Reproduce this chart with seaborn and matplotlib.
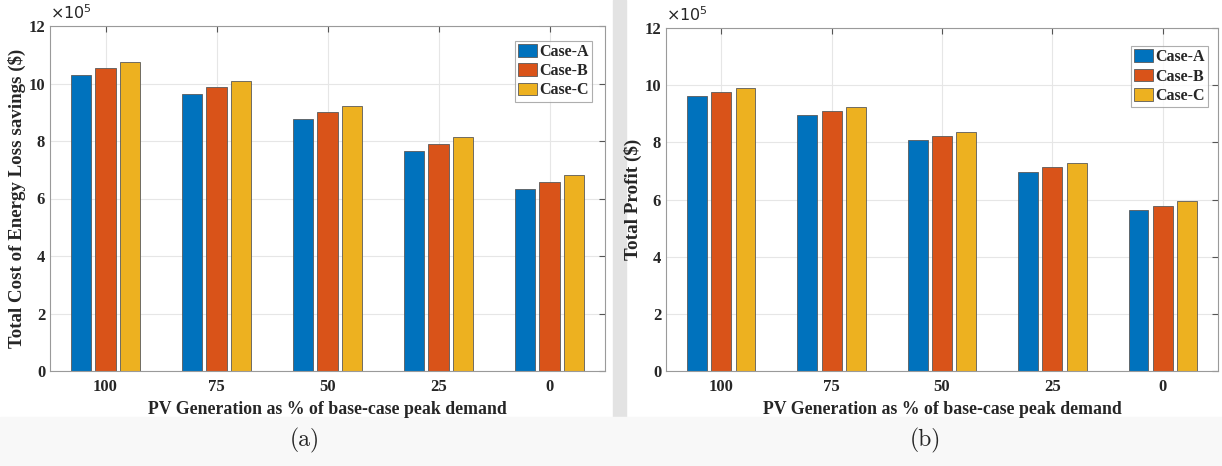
import matplotlib
matplotlib.use("Agg")
import matplotlib.pyplot as plt
import seaborn as sns
import pandas as pd
from matplotlib.patches import Rectangle

categories = ["100", "75", "50", "25", "0"]
cases = ["Case-A", "Case-B", "Case-C"]
savings_a = [10.28, 9.62, 8.77, 7.64, 6.32]
savings_b = [10.53, 9.87, 9.00, 7.91, 6.57]
savings_c = [10.74, 10.08, 9.21, 8.13, 6.81]
profit_a = [9.61, 8.95, 8.08, 6.96, 5.63]
profit_b = [9.75, 9.09, 8.22, 7.13, 5.77]
profit_c = [9.90, 9.23, 8.36, 7.27, 5.94]
yticks = [0, 2, 4, 6, 8, 10, 12]

colors = ["#0072BD", "#D95319", "#EDB120"]

def make_df(a, b, c):
    rows = []
    for case, vals in zip(cases, [a, b, c]):
        for cat, v in zip(categories, vals):
            rows.append({"cat": cat, "case": case, "val": v})
    return pd.DataFrame(rows)

sns.set_style("white")
plt.rcParams["font.family"] = ["Liberation Serif", "DejaVu Serif"]

W, H = 1222, 466
fig = plt.figure(figsize=(W / 100, H / 100), dpi=100, facecolor="white")

# gray separator strip between the two panels and light caption band
fig.add_artist(Rectangle((613 / W, 1 - 417 / H), 13 / W, 417 / H,
                         transform=fig.transFigure, color="#e3e3e3", zorder=0))
fig.add_artist(Rectangle((0, 0), 1, 1 - 417 / H, transform=fig.transFigure,
                         color="#f8f8f8", zorder=0))

def px_axes(l, t, r, b):
    return fig.add_axes([l / W, 1 - b / H, (r - l) / W, (b - t) / H])

ax1 = px_axes(50, 26, 605, 371)
ax2 = px_axes(666, 28, 1218, 371)

panels = [
    (ax1, make_df(savings_a, savings_b, savings_c),
     "Total Cost of Energy Loss savings ($)", 13.6, (0.977, 0.957)),
    (ax2, make_df(profit_a, profit_b, profit_c),
     "Total Profit ($)", 13.8, (0.982, 0.947)),
]

for ax, df, ylabel, ylsize, legpos in panels:
    sns.barplot(data=df, x="cat", y="val", hue="case", order=categories,
                hue_order=cases, palette=colors, width=0.66, gap=0.18,
                edgecolor="#5a5a5a", linewidth=0.6, saturation=1, ax=ax,
                errorbar=None)
    ax.set_xlim(-0.5, 4.5)
    ax.set_ylim(0, 12)
    ax.set_yticks(yticks)
    ax.set_yticklabels([str(t) for t in yticks], fontweight="bold", fontsize=12)
    ax.set_xticks(range(len(categories)))
    ax.set_xticklabels(categories, fontweight="bold", fontsize=12)
    ax.tick_params(direction="in", length=4, top=True, right=True,
                   color="#555555")
    ax.tick_params(axis="x", pad=6)
    ax.tick_params(axis="y", pad=3.5)
    ax.grid(True, color="#e6e6e6", linewidth=0.8)
    ax.set_axisbelow(True)
    for s in ax.spines.values():
        s.set_color("#9a9a9a")
        s.set_linewidth(0.8)
    ax.set_xlabel("PV Generation as % of base-case peak demand",
                  fontweight="bold", fontsize=12.8, labelpad=4)
    ax.set_ylabel(ylabel, fontweight="bold", fontsize=ylsize, labelpad=1.5)
    ax.text(0.0, 1.012, r"$\times 10^5$", transform=ax.transAxes,
            ha="left", va="bottom", fontsize=11.5, family="cmr10")
    handles, labels = ax.get_legend_handles_labels()
    leg = ax.legend(handles, labels, loc="upper right", bbox_to_anchor=legpos,
                    prop={"weight": "bold", "size": 11.5}, frameon=True,
                    fancybox=False, edgecolor="#9a9a9a", handlelength=1.2,
                    handleheight=0.85, handletextpad=0.15, labelspacing=0.2,
                    borderpad=0.2, borderaxespad=0.0)
    leg.get_frame().set_linewidth(0.8)

fig.text(305 / W, 1 - 440 / H, "(a)", ha="center", va="center",
         fontsize=17, family="cmr10")
fig.text(925 / W, 1 - 440 / H, "(b)", ha="center", va="center",
         fontsize=17, family="cmr10")

fig.savefig("out.png", dpi=100, facecolor=fig.get_facecolor())
